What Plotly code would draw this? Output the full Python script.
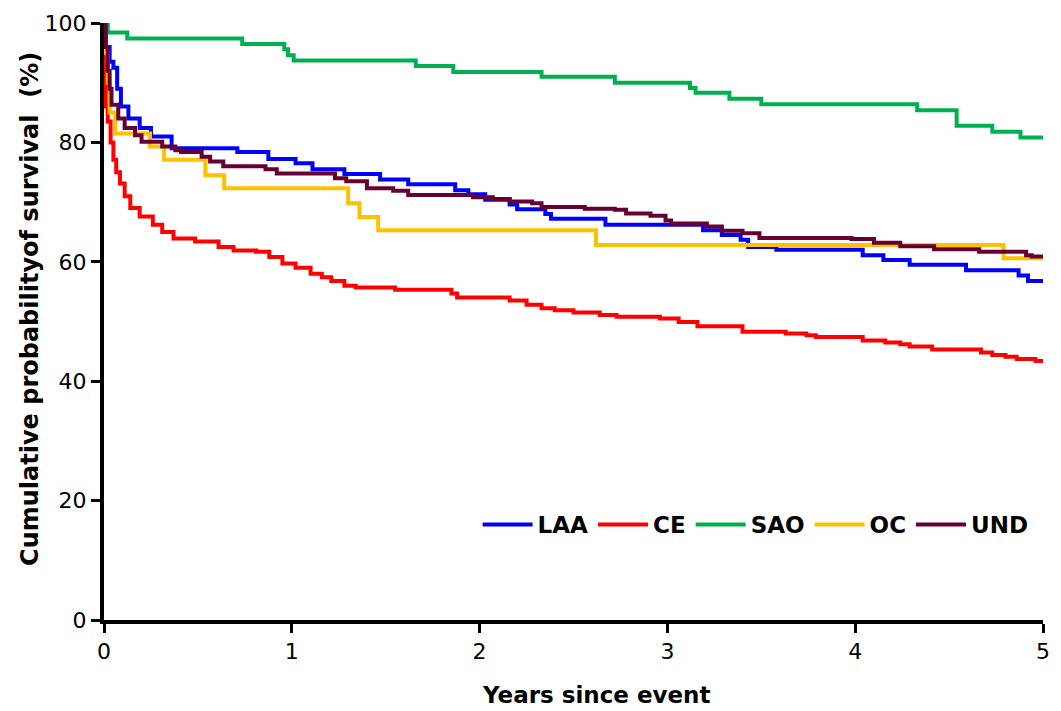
import plotly.graph_objects as go

# ---- data ----
laa_t = [0, 0.01, 0.03, 0.05, 0.07, 0.09, 0.13, 0.19, 0.25, 0.36, 0.71, 0.875, 1.02, 1.11, 1.28, 1.47,
         1.62, 1.87, 1.94, 2.03, 2.16, 2.2, 2.35, 2.38, 2.67, 3.19, 3.29, 3.39, 3.43, 3.58, 4.04, 4.15,
         4.29, 4.59, 4.87, 4.92, 5.0]
laa_v = [100, 96, 93.5, 92.5, 89, 86, 84.0, 82.4, 81.0, 79.0, 78.4, 77.2, 76.5, 75.5, 74.7, 73.8,
         73.0, 72.0, 71.3, 70.4, 69.6, 68.8, 68.0, 67.2, 66.2, 65.3, 64.5, 63.7, 62.5, 62.0, 61.1, 60.3,
         59.5, 58.6, 57.7, 56.8, 56.8]

ce_t = [0, 0.005, 0.01, 0.02, 0.035, 0.05, 0.065, 0.085, 0.11, 0.14, 0.19, 0.26, 0.31, 0.37, 0.485,
        0.61, 0.69, 0.81, 0.88, 0.95, 1.02, 1.1, 1.16, 1.21, 1.28, 1.34, 1.55, 1.85, 1.88, 2.16, 2.25,
        2.33, 2.4, 2.5, 2.64, 2.73, 2.96, 3.06, 3.16, 3.40, 3.63, 3.74, 3.79, 4.04, 4.16, 4.24, 4.29,
        4.41, 4.67, 4.73, 4.80, 4.86, 4.96, 5.0]
ce_v = [100, 92, 86, 83.5, 80, 77.1, 75, 73.1, 71, 69.0, 67.6, 66.2, 65.0, 63.9, 63.4,
        62.5, 61.9, 61.7, 60.8, 59.7, 59.0, 58.0, 57.4, 56.8, 56.0, 55.7, 55.3, 54.7, 54.0, 53.5, 52.8,
        52.2, 51.9, 51.5, 51.1, 50.8, 50.5, 49.9, 49.2, 48.3, 48.0, 47.7, 47.4, 46.8, 46.5, 46.2, 45.8,
        45.3, 44.8, 44.4, 44.1, 43.7, 43.4, 43.4]

sao_t = [0, 0.02, 0.124, 0.736, 0.96, 0.98, 1.01, 1.66, 1.86, 2.33, 2.72, 3.12, 3.15, 3.33, 3.50,
         4.33, 4.54, 4.73, 4.88, 5.0]
sao_v = [100, 98.4, 97.4, 96.5, 95.6, 94.6, 93.7, 92.8, 91.8, 91.0, 90.0, 89.1, 88.3, 87.3, 86.4,
         85.4, 82.8, 81.8, 80.8, 80.8]

oc_t = [0, 0.01, 0.02, 0.03, 0.06, 0.245, 0.32, 0.54, 0.64, 1.30, 1.36, 1.46, 2.62, 4.79, 5.0]
oc_v = [100, 95, 90, 85, 81.5, 79.3, 77.1, 74.5, 72.3, 69.8, 67.5, 65.3, 62.8, 60.6, 60.6]

und_t = [0, 0.01, 0.02, 0.03, 0.04, 0.076, 0.11, 0.165, 0.2, 0.31, 0.38, 0.41, 0.52, 0.565, 0.635,
         0.86, 0.92, 1.23, 1.29, 1.40, 1.54, 1.62, 1.965, 2.07, 2.16, 2.28, 2.33, 2.56, 2.72, 2.78,
         2.91, 2.99, 3.02, 3.21, 3.29, 3.40, 3.49, 3.98, 4.10, 4.24, 4.42, 4.66, 4.91, 4.94, 5.0]
und_v = [100, 96, 92, 89, 86.3, 84.0, 82.4, 81.2, 80.1, 79.3, 78.7, 78.4, 77.6, 76.8, 76.0,
         75.5, 74.8, 74.0, 73.5, 72.3, 71.9, 71.2, 70.8, 70.5, 70.1, 69.8, 69.2, 68.9, 68.7, 68.1,
         67.7, 66.9, 66.4, 65.9, 65.2, 64.8, 64.0, 63.8, 63.2, 62.6, 62.1, 61.7, 61.1, 60.9, 60.9]

series = [
    ("LAA", laa_t, laa_v, "#0000FF"),
    ("CE", ce_t, ce_v, "#FF0000"),
    ("SAO", sao_t, sao_v, "#00B050"),
    ("OC", oc_t, oc_v, "#FFC000"),
    ("UND", und_t, und_v, "#660033"),
]

x_ticks = [0, 1, 2, 3, 4, 5]
y_ticks = [0, 20, 40, 60, 80, 100]
x_title = "Years since event"
y_title = "Cumulative probabilityof survival  (%)"

FONT = "DejaVu Sans, Verdana, sans-serif"

fig = go.Figure()
for name, t, v, c in series:
    fig.add_trace(go.Scatter(x=t, y=v, name=name, mode="lines", line_shape="hv",
                             line=dict(color=c, width=4)))

fig.update_layout(
    width=1061, height=711,
    margin=dict(l=104, r=18, t=23, b=91),
    paper_bgcolor="white", plot_bgcolor="white",
    font=dict(family=FONT, color="black", size=22),
    legend=dict(orientation="h", x=0.99, xanchor="right", y=0.16, yanchor="middle",
                font=dict(family=FONT, size=23, color="black", weight="bold"),
                bgcolor="rgba(0,0,0,0)", itemwidth=50, tracegroupgap=0),
    showlegend=True,
    annotations=[
        dict(text=x_title, xref="paper", yref="paper", x=0.524, y=-0.1256,
             xanchor="center", yanchor="middle", showarrow=False,
             font=dict(family=FONT, size=23, weight="bold", color="black")),
        dict(text=y_title, xref="paper", yref="paper", x=-0.0788, y=0.521, textangle=-90,
             xanchor="center", yanchor="middle", showarrow=False,
             font=dict(family=FONT, size=24, weight="bold", color="black")),
    ],
)
fig.update_xaxes(range=[0, 5], tickvals=x_ticks, ticktext=[str(v) for v in x_ticks],
                 showgrid=False, zeroline=False, showline=True, linecolor="black", linewidth=4,
                 ticks="outside", ticklen=9, tickwidth=3, tickcolor="black",
                 tickfont=dict(size=22))
fig.update_yaxes(range=[0, 100], tickvals=y_ticks, ticktext=[str(v) for v in y_ticks],
                 showgrid=False, zeroline=False, showline=True, linecolor="black", linewidth=4,
                 ticks="outside", ticklen=9, tickwidth=3, tickcolor="black",
                 tickfont=dict(size=22))

fig.write_html("out.html")
